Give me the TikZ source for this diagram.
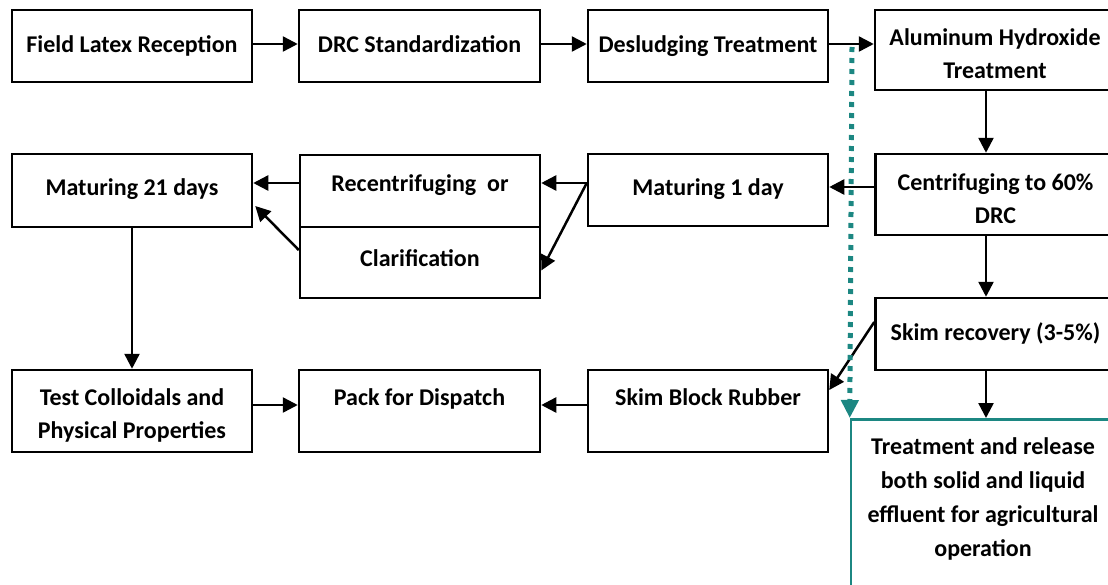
\documentclass[tikz,border=0pt]{standalone}
\usepackage{fontspec}
\setmainfont{Carlito}
\usetikzlibrary{arrows.meta}
\definecolor{tealc}{RGB}{28,135,130}
\tikzset{
  box/.style={draw=black, line width=2.5pt, rectangle, inner sep=0pt, align=center,
    font=\fontsize{24}{33}\selectfont\bfseries, text height=18pt, text depth=6pt},
  txt/.style={inner sep=0pt, align=center, font=\fontsize{24}{34}\selectfont\bfseries},
  arr/.style={draw=black, line width=2.5pt, -{Triangle[length=15pt,width=15pt]}},
  dots/.style={draw=tealc, line width=5pt, dash pattern=on 5pt off 6pt,
    -{Triangle[length=18pt,width=17pt,fill=tealc]}},
}
\begin{document}
\begin{tikzpicture}[x=1pt,y=-1pt]
\useasboundingbox (0,0) rectangle (1108,584);
% row 1
\node[box, minimum width=240pt, minimum height=72pt] (field) at (132,46) {Field Latex Reception};
\node[box, minimum width=241pt, minimum height=72pt] (drc) at (419.5,46) {DRC Standardization};
\node[box, minimum width=240pt, minimum height=72pt] (desl) at (708,46) {Desludging Treatment};
\node[box, minimum width=240pt, minimum height=80pt, text height=62pt] (alum) at (995,50) {Aluminum Hydroxide\\Treatment};
% row 2
\node[box, minimum width=240pt, minimum height=81pt, text height=63pt] (cent) at (995.5,194.5) {Centrifuging to 60\%\\DRC};
\node[box, minimum width=240pt, minimum height=72pt, text depth=8pt] (mat1) at (708,190) {Maturing 1 day};
\node[box, minimum width=240pt, minimum height=72pt, text depth=18pt] (recent) at (420,191) {Recentrifuging~~or};
\node[box, minimum width=240pt, minimum height=71pt, text depth=11pt] (clar) at (420,262.5) {Clarification};
\node[box, minimum width=240pt, minimum height=73pt, text depth=9pt] (mat21) at (132,190.5) {Maturing 21 days};
% row 3
\node[box, minimum width=240pt, minimum height=72pt] (skimrec) at (995.5,334) {Skim recovery (3-5\%)};
\node[box, minimum width=240pt, minimum height=82pt, text depth=30pt] (skimblock) at (708,411) {Skim Block Rubber};
\node[box, minimum width=241pt, minimum height=82pt, text depth=30pt] (pack) at (419.5,411) {Pack for Dispatch};
\node[box, minimum width=240pt, minimum height=82pt, text height=60pt] (test) at (132,411) {Test Colloidals and\\Physical Properties};
% effluent box
\node[draw=tealc, line width=2.5pt, rectangle, inner sep=0pt, minimum width=264pt, minimum height=240pt, anchor=north] (treat) at (983,418) {};
\node[txt] (treattext) at (983,498.5) {Treatment and release\\both solid and liquid\\effluent for agricultural\\operation};
% connectors
\draw[arr] ([yshift=2pt]field.east) -- ([yshift=2pt]drc.west);
\draw[arr] ([yshift=2pt]drc.east) -- ([yshift=2pt]desl.west);
\draw[arr] ([yshift=2pt]desl.east) -- ([yshift=2pt]desl.east -| alum.west);
\draw[arr] ([xshift=-9pt]alum.south) -- ([xshift=-9pt]alum.south |- cent.north);
\draw[arr] ([yshift=3pt]mat1.east -| cent.west) -- ([yshift=3pt]mat1.east);
\draw[arr] ([yshift=7pt]mat1.west) -- ([yshift=8pt]recent.east);
\draw[arr] ([yshift=7pt]mat1.west) -- ([yshift=-8pt]clar.east);
\draw[arr] ([yshift=8pt]recent.west) -- ([yshift=7.5pt]mat21.east);
\draw[arr] ([yshift=12.5pt]clar.west) -- ([xshift=2pt,yshift=-15.5pt]mat21.east);
\draw[arr] (mat21.south) -- (test.north);
\draw[arr] ([yshift=6pt]test.east) -- ([yshift=6pt]pack.west);
\draw[arr] ([yshift=6pt]skimblock.west) -- ([yshift=6pt]pack.east);
\draw[arr] ([xshift=-9.5pt]cent.south) -- ([xshift=-9.5pt]cent.south |- skimrec.north);
\draw[arr] ([yshift=12pt]skimrec.west) -- ([yshift=21pt]skimblock.east);
\draw[arr] ([xshift=-9.5pt]skimrec.south) -- ([xshift=-9.5pt]skimrec.south |- treat.north);
\coordinate (dstart) at (852,47);
\draw[dots] (dstart) -- (treat.north west);
\end{tikzpicture}
\end{document}
